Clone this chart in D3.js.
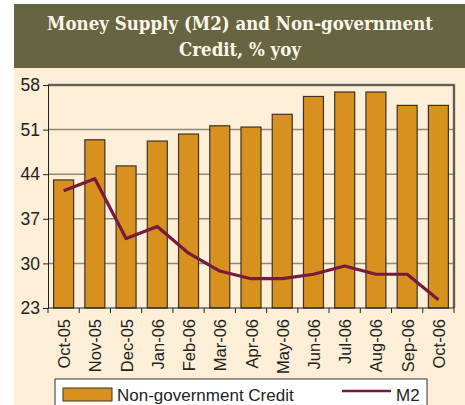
<!DOCTYPE html>
<html>
<head>
<meta charset="utf-8">
<script src="https://cdn.jsdelivr.net/npm/d3@7"></script>
<style>
  body { margin: 0; background: #fff; }
  svg { display: block; }
</style>
</head>
<body>
<svg id="chart" width="465" height="405"></svg>
<script>
// data
let months = ["Oct-05", "Nov-05", "Dec-05", "Jan-06", "Feb-06", "Mar-06", "Apr-06",
              "May-06", "Jun-06", "Jul-06", "Aug-06", "Sep-06", "Oct-06"];
let credit = [43.1, 49.4, 45.3, 49.2, 50.3, 51.6, 51.4, 53.4, 56.2, 56.9, 56.9, 54.8, 54.8];
let m2 = [41.4, 43.3, 33.9, 35.8, 31.6, 28.8, 27.6, 27.6, 28.3, 29.6, 28.3, 28.3, 24.3];
let yTicks = [23, 30, 37, 44, 51, 58];

let svg = d3.select("#chart");
let panelX = 14;

// backgrounds
svg.append("rect").attr("x", panelX).attr("y", 68).attr("width", 465 - panelX).attr("height", 405 - 68)
    .attr("fill", "#fdeed8");
svg.append("rect").attr("x", panelX).attr("y", 4).attr("width", 465 - panelX).attr("height", 64)
    .attr("fill", "#676541");

let title = svg.append("text")
    .attr("text-anchor", "middle")
    .attr("fill", "#fbf6e8")
    .style("font-family", "'DejaVu Serif Condensed', 'DejaVu Serif'")
    .style("font-stretch", "condensed")
    .style("font-weight", "bold")
    .style("font-size", "18.5px");
title.append("tspan").attr("x", 240).attr("y", 30).text("Money Supply (M2) and Non-government");
title.append("tspan").attr("x", 240).attr("y", 56).text("Credit, % yoy");

let margin = { top: 85, right: 11, bottom: 97, left: 48 },
    width = 465 - margin.left - margin.right,
    height = 405 - margin.top - margin.bottom;

let g = svg.append("g").attr("transform", `translate(${margin.left},${margin.top})`);

let xscale = d3.scaleBand().domain(months).range([0, width]).paddingInner(0.36).paddingOuter(0.18);
let xstep = d3.scalePoint().domain(months).range([0, width]).padding(0.5);
let yscale = d3.scaleLinear().domain([23, 58]).range([height, 0]);

//#region grid
g.append("g").selectAll("line").data(yTicks.slice(1)).join("line")
    .attr("x1", 0).attr("x2", width)
    .attr("y1", d => yscale(d)).attr("y2", d => yscale(d))
    .attr("stroke", "#8f887c").attr("stroke-width", 1.5);
// frame top and right
g.append("path")
    .attr("d", `M0,0H${width}V${height}`)
    .attr("fill", "none").attr("stroke", "#8f887c").attr("stroke-width", 2.5);
g.append("path")
    .attr("d", `M0,0H${width}V${height}`)
    .attr("fill", "none").attr("stroke", "#333").attr("stroke-width", 1);
//#endregion

// bars
g.append("g").selectAll("rect").data(credit).join("rect")
    .attr("x", (d, i) => xscale(months[i]))
    .attr("y", d => yscale(d))
    .attr("width", xscale.bandwidth())
    .attr("height", d => height - yscale(d))
    .attr("fill", "#d8901f")
    .attr("stroke", "#3a3326").attr("stroke-width", 1.2);

// M2 line
g.append("path").datum(m2)
    .attr("fill", "none")
    .attr("stroke", "#771a3c").attr("stroke-width", 3.2)
    .attr("stroke-linejoin", "round")
    .attr("d", d3.line().x((d, i) => xstep(months[i])).y(d => yscale(d)));

// axes
let yAxis = d3.axisLeft(yscale).tickValues(yTicks).tickSize(5).tickFormat(d3.format("d"));
g.append("g").call(yAxis)
    .call(a => a.select(".domain").attr("stroke", "#222"))
    .call(a => a.selectAll(".tick line").attr("stroke", "#222"))
    .call(a => a.selectAll("text").attr("fill", "#222")
        .style("font-family", "'Liberation Sans', Arial, sans-serif").style("font-size", "17.5px").attr("x", -8));

let tickPos = d3.range(months.length + 1).map(i => i * width / months.length);
let xg = g.append("g").attr("transform", `translate(0,${height})`);
xg.append("line").attr("x1", 0).attr("x2", width).attr("stroke", "#222");
xg.selectAll(".tk").data(tickPos).join("line").attr("class", "tk")
    .attr("x1", d => d).attr("x2", d => d).attr("y1", 0).attr("y2", 5).attr("stroke", "#222");
xg.selectAll("text").data(months).join("text")
    .attr("transform", d => `translate(${xstep(d) + 6.5},11) rotate(-90)`)
    .attr("text-anchor", "end")
    .attr("fill", "#222")
    .style("font-family", "'Liberation Sans', Arial, sans-serif").style("font-size", "16.5px")
    .text(d => d);

// legend
let lg = svg.append("g");
lg.append("rect").attr("x", 55).attr("y", 379).attr("width", 372).attr("height", 30)
    .attr("fill", "#fff").attr("stroke", "#333").attr("stroke-width", 1);
lg.append("rect").attr("x", 63).attr("y", 388).attr("width", 49).attr("height", 13)
    .attr("fill", "#d8901f").attr("stroke", "#3a3326").attr("stroke-width", 1);
lg.append("text").attr("x", 117).attr("y", 401).text("Non-government Credit")
    .attr("fill", "#222")
    .style("font-family", "'Liberation Sans', Arial, sans-serif").style("font-size", "17px");
lg.append("line").attr("x1", 342).attr("x2", 391).attr("y1", 391).attr("y2", 391)
    .attr("stroke", "#771a3c").attr("stroke-width", 2.5);
lg.append("text").attr("x", 396).attr("y", 401).text("M2")
    .attr("fill", "#222")
    .style("font-family", "'Liberation Sans', Arial, sans-serif").style("font-size", "17px");
</script>
</body>
</html>
